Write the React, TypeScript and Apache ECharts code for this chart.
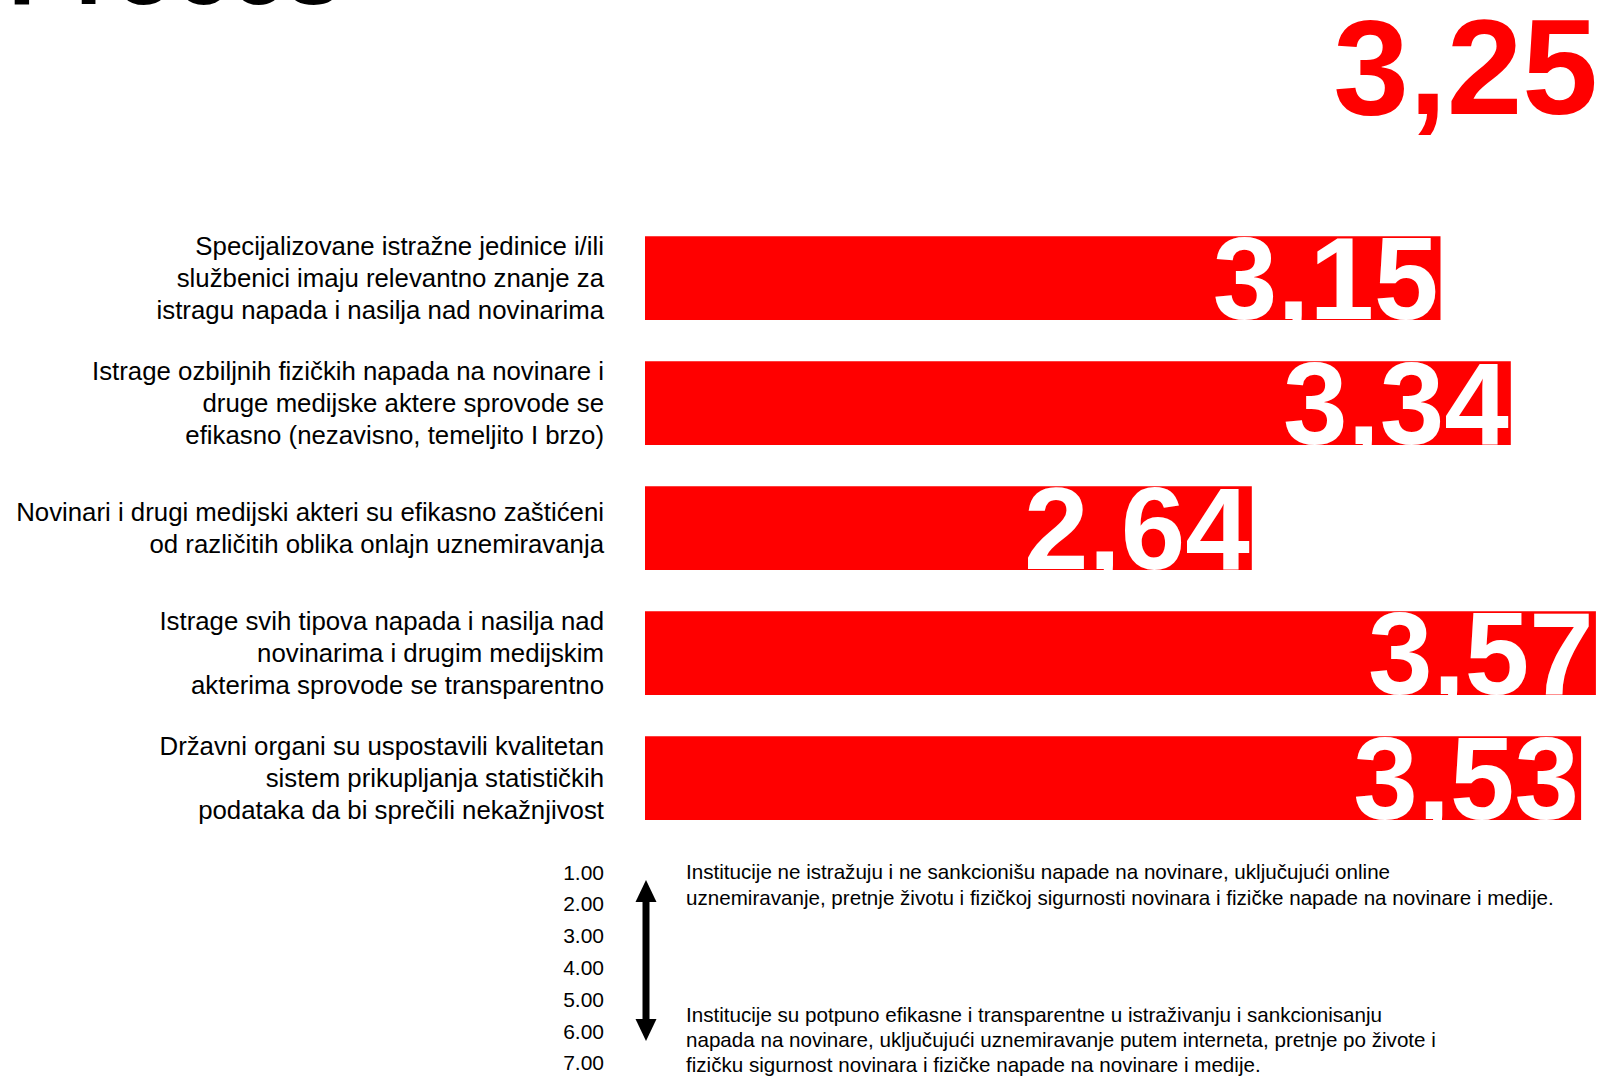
import React, { useEffect, useRef } from "react";
import * as echarts from "echarts";

const categories = [
  "Specijalizovane istražne jedinice i/ili\nslužbenici imaju relevantno znanje za\nistragu napada i nasilja nad novinarima",
  "Istrage ozbiljnih fizičkih napada na novinare i\ndruge medijske aktere sprovode se\nefikasno (nezavisno, temeljito I brzo)",
  "Novinari i drugi medijski akteri su efikasno zaštićeni\nod različitih oblika onlajn uznemiravanja",
  "Istrage svih tipova napada i nasilja nad\nnovinarima i drugim medijskim\nakterima sprovode se transparentno",
  "Državni organi su uspostavili kvalitetan\nsistem prikupljanja statističkih\npodataka da bi sprečili nekažnjivost",
];
const scores = [3.15, 3.34, 2.64, 3.57, 3.53];
const overallScore = 3.25;
const titleText = "Proces";
const scaleTicks = ["1.00", "2.00", "3.00", "4.00", "5.00", "6.00", "7.00"];
const scaleTopText =
  "Institucije ne istražuju i ne sankcionišu napade na novinare, uključujući online\nuznemiravanje, pretnje životu i fizičkoj sigurnosti novinara i fizičke napade na novinare i medije.";
const scaleBottomText =
  "Institucije su potpuno efikasne i transparentne u istraživanju i sankcionisanju\nnapada na novinare, uključujući uznemiravanje putem interneta, pretnje po živote i\nfizičku sigurnost novinara i fizičke napade na novinare i medije.";

const FONT = "'Liberation Sans', Arial, sans-serif";
const RED = "#ff0000";
const fmt = (v: number) => v.toFixed(2).replace(".", ",");

export default function App() {
  const ref = useRef<HTMLDivElement>(null);
  useEffect(() => {
    if (!ref.current) return;
    const chart = echarts.init(ref.current, undefined, { renderer: "svg" });

    const graphics: any[] = [
      {
        type: "text",
        x: 8,
        y: -31,
        style: {
          text: titleText,
          fill: "#000",
          font: `bold 100px ${FONT}`,
          textAlign: "left",
          textVerticalAlign: "middle",
        },
      },
      {
        type: "text",
        x: 1598,
        y: 67,
        style: {
          text: fmt(overallScore),
          fill: RED,
          font: `bold 136px ${FONT}`,
          lineHeight: 128,
          textAlign: "right",
          textVerticalAlign: "middle",
        },
      },
    ];
    scaleTicks.forEach((t, i) => {
      graphics.push({
        type: "text",
        x: 604,
        y: 872 + i * 31.8,
        style: {
          text: t,
          fill: "#000",
          font: `21px ${FONT}`,
          textAlign: "right",
          textVerticalAlign: "middle",
        },
      });
    });
    graphics.push(
      {
        type: "line",
        shape: { x1: 646, y1: 898, x2: 646, y2: 1022 },
        style: { stroke: "#000", lineWidth: 7 },
      },
      {
        type: "polygon",
        shape: { points: [[646, 880], [635.5, 902], [656.5, 902]] },
        style: { fill: "#000" },
      },
      {
        type: "polygon",
        shape: { points: [[646, 1041], [635.5, 1019], [656.5, 1019]] },
        style: { fill: "#000" },
      },
      {
        type: "text",
        x: 686,
        y: 872 - 12.85,
        style: {
          text: scaleTopText,
          fill: "#000",
          font: `20.6px ${FONT}`,
          lineHeight: 25.7,
          textAlign: "left",
          textVerticalAlign: "top",
        },
      },
      {
        type: "text",
        x: 686,
        y: 1014 - 12.5,
        style: {
          text: scaleBottomText,
          fill: "#000",
          font: `20.6px ${FONT}`,
          lineHeight: 25,
          textAlign: "left",
          textVerticalAlign: "top",
        },
      }
    );

    chart.setOption({
      animation: false,
      backgroundColor: "#fff",
      grid: { left: 645, top: 215.5, height: 625, width: 962, containLabel: false },
      xAxis: {
        type: "value",
        min: 1,
        max: 3.6,
        show: false,
        splitLine: { show: false },
      },
      yAxis: {
        type: "category",
        inverse: true,
        data: categories,
        axisLine: { show: false },
        axisTick: { show: false },
        axisLabel: {
          margin: 41,
          color: "#000",
          fontFamily: FONT,
          fontSize: 25.8,
          lineHeight: 32,
          align: "right",
          padding: [0, 0, 4, 0],
        },
      },
      series: [
        {
          type: "bar",
          data: scores,
          barCategoryGap: "33%",
          itemStyle: { color: RED },
          label: {
            show: true,
            position: "insideRight",
            distance: 2,
            offset: [0, 1],
            color: "#fff",
            fontFamily: FONT,
            fontWeight: "bold",
            fontSize: 116,
            formatter: (p: any) => fmt(p.value),
          },
        },
      ],
      graphic: graphics,
    });
    return () => chart.dispose();
  }, []);
  return (
    <div
      ref={ref}
      style={{ position: "absolute", left: 0, top: 0, width: 1611, height: 1078 }}
    />
  );
}
